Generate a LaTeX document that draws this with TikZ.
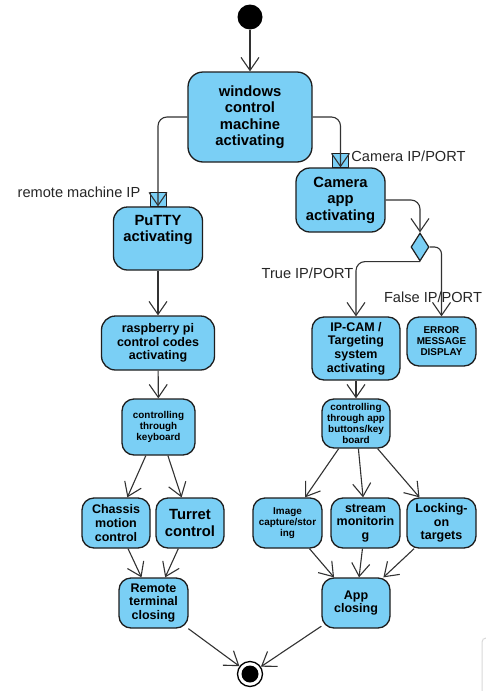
\documentclass[tikz,border=0pt]{standalone}
\usepackage{fontspec}
\setmainfont{Liberation Sans}
\usetikzlibrary{arrows.meta,shapes.geometric}
\definecolor{boxfill}{RGB}{122,207,245}
\definecolor{boxline}{RGB}{30,30,30}
\definecolor{conncol}{RGB}{50,50,50}
\tikzset{
  act/.style={draw=boxline, line width=1.3pt, fill=boxfill, rounded corners=12pt,
     align=center, inner sep=1pt, text=black},
  fbig/.style={font=\fontsize{14.8}{16.5}\selectfont\bfseries},
  fmed/.style={font=\fontsize{12.5}{13.7}\selectfont\bfseries},
  fsml/.style={font=\fontsize{9.9}{11}\selectfont\bfseries},
  pinbox/.style={draw=boxline, line width=1pt, fill=boxfill, minimum width=16pt, minimum height=14pt, inner sep=0pt},
  conn/.style={draw=conncol, line width=1.1pt, -{Straight Barb[length=13pt,width=18pt]}},
  lbl/.style={font=\fontsize{14.6}{16}\selectfont, text=black!85, inner sep=0pt},
}
\begin{document}
\begin{tikzpicture}[x=1pt,y=-1pt]
\useasboundingbox (0,0) rectangle (486,691);
\fill[white] (0,0) rectangle (486,691);
% faint artifact at bottom right
\draw[black!15, line width=1pt, rounded corners=4pt] (492,638) -- (482,638) -- (482,695);

% start and end
\node[circle, fill=black, minimum size=25pt, inner sep=0pt] (start) at (250,17) {};
\node[circle, draw=black, line width=1.3pt, minimum size=25pt, inner sep=0pt, fill=white] (stop) at (250,674) {};
\fill[black] (stop.center) circle (8.5pt);

% activities
\node[act, fbig, minimum width=124pt, minimum height=90pt, rounded corners=15pt] (win) at (250,117) {windows\\control\\machine\\activating};
\node[act, fbig, minimum width=89pt, minimum height=63pt, rounded corners=14pt] (putty) at (158,238.5) {PuTTY\\activating\\[4pt]};
\node[act, fbig, minimum width=89pt, minimum height=64pt, rounded corners=14pt] (cam) at (340.5,200) {Camera\\app\\activating};
\node[act, fmed, minimum width=113pt, minimum height=54pt, rounded corners=14pt] (rasp) at (158,343) {raspberry pi\\control codes\\activating};
\node[act, fmed, minimum width=88pt, minimum height=63pt] (ipcam) at (356,348.5) {IP-CAM /\\Targeting\\system\\activating};
\node[act, fsml, minimum width=69pt, minimum height=49pt] (err) at (441.5,341.5) {ERROR\\MESSAGE\\DISPLAY};
\node[act, fsml, minimum width=73pt, minimum height=56pt] (kbd) at (158.5,427) {controlling\\through\\keyboard};
\node[act, fsml, minimum width=68pt, minimum height=49pt] (appctl) at (356,423.5) {controlling\\through app\\buttons/key\\board};
\node[act, fmed, minimum width=68pt, minimum height=50pt] (chassis) at (116,523) {Chassis\\motion\\control};
\node[act, fbig, minimum width=68pt, minimum height=50pt] (turret) at (190,523) {Turret\\control};
\node[act, fsml, minimum width=69pt, minimum height=50pt] (image) at (287.5,523) {Image\\capture/stor\\ing};
\node[act, fmed, minimum width=69pt, minimum height=50pt] (stream) at (365.5,523) {stream\\monitorin\\g};
\node[act, fmed, minimum width=69pt, minimum height=50pt] (lock) at (441.5,523) {Locking-\\on\\targets};
\node[act, fmed, minimum width=69pt, minimum height=50pt] (remote) at (153.5,603) {Remote\\terminal\\closing};
\node[act, fmed, minimum width=68pt, minimum height=50pt] (appclose) at (356,603) {App\\closing};

% decision
\node[diamond, draw=boxline, line width=1.2pt, fill=boxfill, minimum width=18pt, minimum height=28pt, inner sep=0pt] (dec) at (420,247) {};

% input pins
\node[pinbox] (pinL) at (158,199.5) {};
\node[pinbox] (pinR) at (340,160.5) {};

% connectors
\draw[conn] (start) -- (win);
\draw[conn, rounded corners=9pt] (win.west) -| (putty.north);
\draw[conn, rounded corners=9pt] (win.east) -| (cam.north);
\draw[conn, rounded corners=9pt] (cam.east) -| (dec.north);
\draw[conn, rounded corners=9pt] (dec.south) -| (ipcam.north);
\draw[conn, rounded corners=7pt] (dec.east) -| (err.north);
\draw[conn] (putty) -- (rasp);
\draw[conn] (rasp) -- (kbd);
\draw[conn] (ipcam) -- (appctl);
\draw[conn] (kbd) -- (chassis);
\draw[conn] (kbd) -- (turret);
\draw[conn] (appctl) -- (image);
\draw[conn] (appctl) -- (stream);
\draw[conn] (appctl) -- (lock);
\draw[conn] (chassis) -- (remote);
\draw[conn] (turret) -- (remote);
\draw[conn] (image) -- (appclose);
\draw[conn] (stream) -- (appclose);
\draw[conn] (lock) -- (appclose);
\draw[conn] (remote) -- (stop);
\draw[conn] (appclose) -- (stop);

% labels
\node[lbl] (l1) at (79,192) {remote machine IP};
\node[lbl] (l2) at (408.5,156) {Camera IP/PORT};
\node[lbl] (l3) at (307.5,273) {True IP/PORT};
\node[lbl] (l4) at (433,297) {False IP/PORT};
\end{tikzpicture}
\end{document}
